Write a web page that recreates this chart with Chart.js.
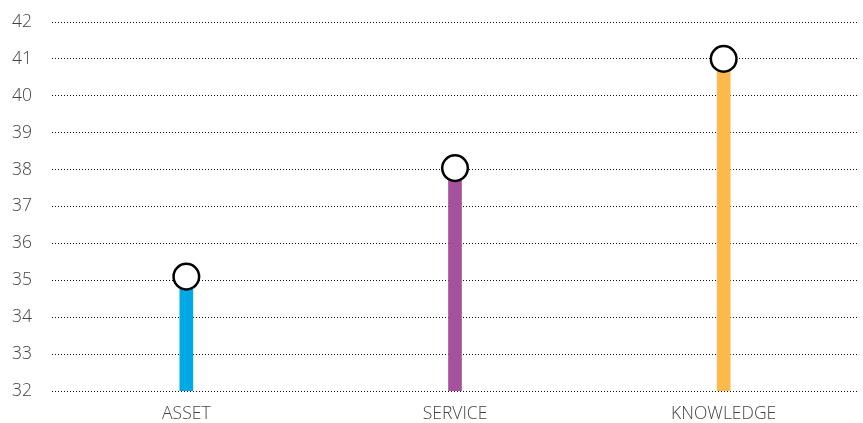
<!DOCTYPE html>
<html>
<head>
<meta charset="utf-8">
<script src="https://cdn.jsdelivr.net/npm/chart.js@4/dist/chart.umd.min.js"></script>
<style>
  html, body { margin: 0; padding: 0; background: #fff; overflow: hidden; }
  #wrap { width: 863px; height: 423px; position: relative; }
  canvas { display: block; }
</style>
</head>
<body>
<div id="wrap"><canvas id="c"></canvas></div>
<script>
// Lollipop chart: one stem and one circular head per category
const categories = ['ASSET', 'SERVICE', 'KNOWLEDGE'];
const scores = [35.1, 38.04, 41];
const stemColors = ['#00A8E6', '#A5519C', '#FDB94A'];
const yTicks = [32, 33, 34, 35, 36, 37, 38, 39, 40, 41, 42];

const tickFont = { family: 'Open Sans', size: 17.5, weight: '300' };

new Chart(document.getElementById('c'), {
  data: {
    labels: categories,
    datasets: [
      {
        type: 'line',
        data: scores,
        showLine: false,
        pointRadius: 12.8,
        pointHoverRadius: 12.8,
        pointBackgroundColor: '#ffffff',
        pointBorderColor: '#000000',
        pointBorderWidth: 2.5,
        order: 0
      },
      {
        type: 'bar',
        data: scores,
        backgroundColor: stemColors,
        barThickness: 13,
        order: 1
      }
    ]
  },
  options: {
    responsive: true,
    maintainAspectRatio: false,
    animation: false,
    layout: { autoPadding: false, padding: { top: 22, right: 5, bottom: 0, left: 0 } },
    plugins: { legend: { display: false }, tooltip: { enabled: false } },
    scales: {
      x: {
        afterFit: (axis) => { axis.height = 32; axis.paddingLeft = 0; axis.paddingRight = 0; },
        grid: { display: false, drawTicks: false },
        border: { display: false },
        ticks: { color: '#444', font: tickFont, padding: 13 }
      },
      y: {
        min: 32,
        max: 42,
        afterBuildTicks: (axis) => { axis.ticks = yTicks.map(v => ({ value: v })); },
        afterFit: (axis) => { axis.width = 52; axis.paddingTop = 0; axis.paddingBottom = 0; },
        grid: { color: '#111', lineWidth: 1, drawTicks: false },
        border: { display: false, dash: [1, 2] },
        ticks: { color: '#444', font: tickFont, padding: 20 }
      }
    }
  }
});
</script>
</body>
</html>
